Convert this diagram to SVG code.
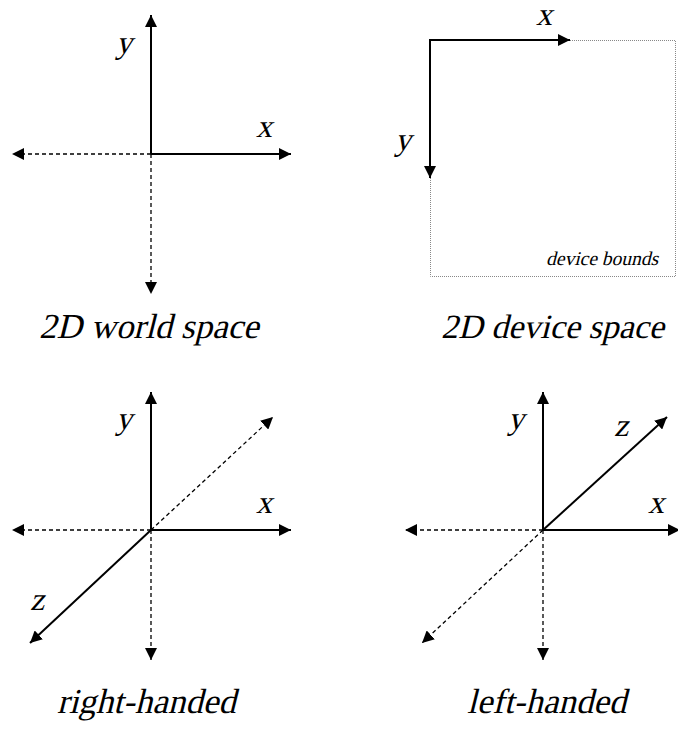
<svg xmlns="http://www.w3.org/2000/svg" width="678" height="736" viewBox="0 0 678 736">
<style>
.solid{stroke:#000;stroke-width:2;fill:none}
.dash{stroke:#000;stroke-width:1.3;stroke-dasharray:4,3;fill:none}
.dot{stroke:#888;stroke-width:1;stroke-dasharray:1,1;fill:none}
text{font-family:'Liberation Serif','Times New Roman',serif;fill:#000}
.lbl{font-size:32px}
.cap{font-size:35px}
.small{font-size:19.5px}
</style>
<defs>
<marker id="ah" markerUnits="userSpaceOnUse" markerWidth="13" markerHeight="12" refX="12" refY="6" orient="auto">
<path d="M0,0 L12,6 L0,12 Z" fill="#000"/>
</marker>
</defs>
<rect width="678" height="736" fill="#fff"/>
<g id="connectors">
<line class="solid" x1="151" y1="154" x2="151" y2="15" marker-end="url(#ah)"/>
<line class="solid" x1="151" y1="154" x2="291" y2="154" marker-end="url(#ah)"/>
<line class="dash" x1="151" y1="154" x2="12" y2="154" marker-end="url(#ah)"/>
<line class="dash" x1="151" y1="154" x2="151" y2="294" marker-end="url(#ah)"/>
<path class="dot" d="M570,40.5 H675.5 V276.5 H430.5 V178"/>
<line class="solid" x1="429" y1="40" x2="570" y2="40" marker-end="url(#ah)"/>
<line class="solid" x1="430" y1="40" x2="430" y2="178" marker-end="url(#ah)"/>
<line class="solid" x1="151" y1="530" x2="151" y2="392" marker-end="url(#ah)"/>
<line class="solid" x1="151" y1="530" x2="291" y2="530" marker-end="url(#ah)"/>
<line class="dash" x1="151" y1="530" x2="12" y2="530" marker-end="url(#ah)"/>
<line class="dash" x1="151" y1="530" x2="151" y2="660" marker-end="url(#ah)"/>
<line class="dash" x1="151" y1="530" x2="273" y2="417" marker-end="url(#ah)"/>
<line class="solid" x1="151" y1="530" x2="30" y2="643" marker-end="url(#ah)"/>
<line class="solid" x1="543" y1="530" x2="543" y2="392" marker-end="url(#ah)"/>
<line class="solid" x1="543" y1="530" x2="680" y2="530" marker-end="url(#ah)"/>
<line class="dash" x1="543" y1="530" x2="405" y2="530" marker-end="url(#ah)"/>
<line class="dash" x1="543" y1="530" x2="543" y2="660" marker-end="url(#ah)"/>
<line class="solid" x1="543" y1="530" x2="667" y2="417" marker-end="url(#ah)"/>
<line class="dash" x1="543" y1="530" x2="422" y2="643" marker-end="url(#ah)"/>
</g>
<g id="world2d">
<text class="lbl" transform="translate(116,53) skewX(-14)">y</text>
<text class="lbl" transform="translate(256,137) skewX(-14)">x</text>
<text class="cap" transform="translate(39,338) skewX(-14)">2D world space</text>
</g>
<g id="device2d">
<text class="lbl" transform="translate(536,25) skewX(-14)">x</text>
<text class="lbl" transform="translate(395,150) skewX(-14)">y</text>
<text class="small" transform="translate(546,265) skewX(-14)">device bounds</text>
<text class="cap" style="font-size:34px" transform="translate(441,338) skewX(-14)">2D device space</text>
</g>
<g id="righthanded">
<text class="lbl" transform="translate(116,429) skewX(-14)">y</text>
<text class="lbl" transform="translate(256,513) skewX(-14)">x</text>
<text class="lbl" transform="translate(30,610) skewX(-14)">z</text>
<text class="cap" transform="translate(57,713) skewX(-14)">right-handed</text>
</g>
<g id="lefthanded">
<text class="lbl" transform="translate(508,429) skewX(-14)">y</text>
<text class="lbl" transform="translate(614,436) skewX(-14)">z</text>
<text class="lbl" transform="translate(648,513) skewX(-14)">x</text>
<text class="cap" transform="translate(467,713) skewX(-14)">left-handed</text>
</g>
</svg>
